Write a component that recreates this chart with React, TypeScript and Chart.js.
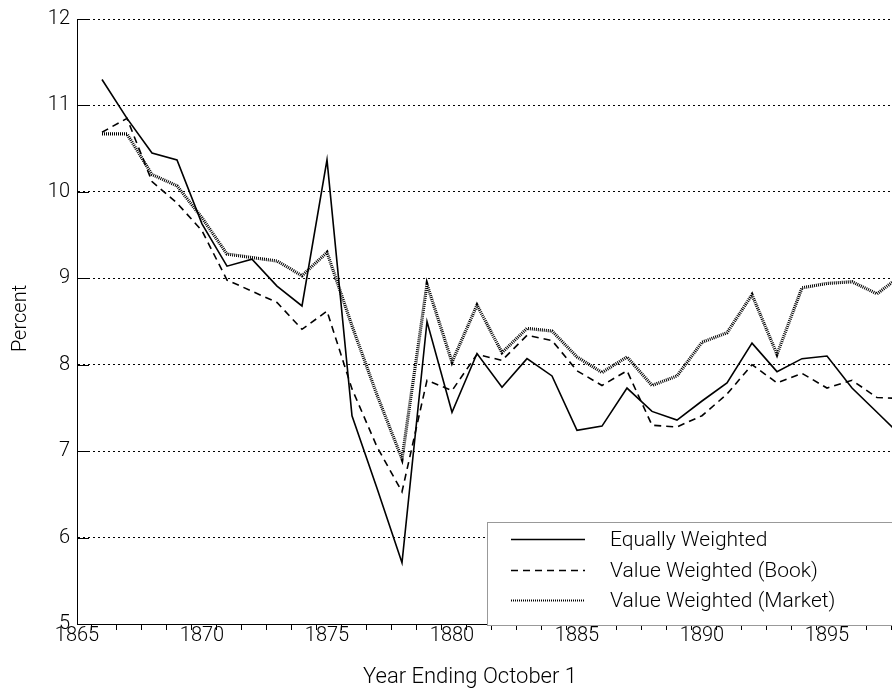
import React, { useEffect, useRef } from 'react';
import { Chart, registerables } from 'chart.js';

Chart.register(...registerables);

const years = [
  1866, 1867, 1868, 1869, 1870, 1871, 1872, 1873, 1874, 1875, 1876,
  1877, 1878, 1879, 1880, 1881, 1882, 1883, 1884, 1885, 1886, 1887,
  1888, 1889, 1890, 1891, 1892, 1893, 1894, 1895, 1896, 1897, 1898,
];
const equallyWeighted = [
  11.3, 10.85, 10.45, 10.37, 9.63, 9.14, 9.22, 8.91, 8.68, 10.37, 7.41,
  6.57, 5.71, 8.5, 7.45, 8.13, 7.74, 8.07, 7.87, 7.24, 7.29, 7.73,
  7.46, 7.36, 7.58, 7.79, 8.25, 7.92, 8.07, 8.1, 7.73, 7.45, 7.17,
];
const valueWeightedBook = [
  10.69, 10.85, 10.12, 9.87, 9.55, 8.98, 8.85, 8.72, 8.41, 8.62, 7.72,
  7.05, 6.53, 7.82, 7.7, 8.12, 8.05, 8.34, 8.28, 7.93, 7.76, 7.93,
  7.3, 7.28, 7.41, 7.66, 8.0, 7.79, 7.9, 7.73, 7.82, 7.62, 7.61,
];
const valueWeightedMarket = [
  10.67, 10.67, 10.2, 10.07, 9.7, 9.28, 9.24, 9.2, 9.03, 9.3, 8.45,
  7.65, 6.91, 8.93, 8.03, 8.69, 8.14, 8.42, 8.39, 8.09, 7.91, 8.09,
  7.76, 7.87, 8.26, 8.37, 8.81, 8.12, 8.89, 8.94, 8.96, 8.82, 9.04,
];
const seriesLabels = ['Equally Weighted', 'Value Weighted (Book)', 'Value Weighted (Market)'];
const yTickValues = [5, 6, 7, 8, 9, 10, 11, 12];
const xLabelYears = [1865, 1870, 1875, 1880, 1885, 1890, 1895];
const xTitle = 'Year Ending October 1';
const yTitle = 'Percent';
const xMin = 1865;
const xMax = 1897.6;
const minorTickOffset = 0.55;

const FONT_FAMILY = "Roboto, 'Liberation Sans', sans-serif";
const FONT_WEIGHT = '300';
const TICK_FONT = { family: FONT_FAMILY, size: 20, weight: FONT_WEIGHT as any };
const cssFont = (size: number) => `${FONT_WEIGHT} ${size}px ${FONT_FAMILY}`;

const lineStyles = [
  { borderColor: '#000', borderWidth: 1.6, borderDash: [] as number[] },
  { borderColor: '#000', borderWidth: 1.6, borderDash: [7, 5] },
  { borderColor: '#000', borderWidth: 3.2, borderDash: [1, 1] },
];

const axisTicksPlugin = {
  id: 'axisTicks',
  afterDraw(chart: any) {
    const { ctx, chartArea, scales } = chart;
    const x = scales.x;
    const y = scales.y;
    ctx.save();
    ctx.strokeStyle = '#000';
    ctx.lineWidth = 1;
    ctx.setLineDash([]);
    ctx.beginPath();
    yTickValues.forEach((v) => {
      const py = Math.round(y.getPixelForValue(v)) + 0.5;
      ctx.moveTo(chartArea.left, py);
      ctx.lineTo(chartArea.left + 12, py);
    });
    for (let yr = Math.floor(x.min); yr + minorTickOffset <= x.max; yr++) {
      const px = Math.round(x.getPixelForValue(yr + minorTickOffset)) + 0.5;
      ctx.moveTo(px, chartArea.bottom);
      ctx.lineTo(px, chartArea.bottom + 6);
    }
    ctx.stroke();

    // axis titles
    ctx.fillStyle = '#000';
    ctx.textAlign = 'center';
    ctx.textBaseline = 'alphabetic';
    ctx.font = cssFont(22);
    ctx.fillText(xTitle, 470, 683);
    ctx.save();
    ctx.font = cssFont(20);
    ctx.translate(26, (chartArea.top + chartArea.bottom) / 2 - 3);
    ctx.rotate(-Math.PI / 2);
    ctx.fillText(yTitle, 0, 0);
    ctx.restore();
    ctx.restore();
  },
};

const boxLegendPlugin = {
  id: 'boxLegend',
  afterDraw(chart: any) {
    const { ctx } = chart;
    const left = 487;
    const top = 522;
    const bottom = 625;
    ctx.save();
    ctx.fillStyle = '#fff';
    ctx.fillRect(left, top, 500, bottom - top);
    ctx.strokeStyle = '#999';
    ctx.lineWidth = 1;
    ctx.setLineDash([]);
    ctx.strokeRect(left + 0.5, top + 0.5, 500, bottom - top);
    const rows = [539, 570, 600];
    chart.data.datasets.forEach((ds: any, i: number) => {
      const yy = rows[i] + 0.5;
      ctx.beginPath();
      ctx.strokeStyle = ds.borderColor;
      ctx.lineWidth = i === 2 ? 2 : ds.borderWidth;
      ctx.setLineDash(ds.borderDash || []);
      ctx.moveTo(511, yy);
      ctx.lineTo(585, yy);
      ctx.stroke();
      ctx.setLineDash([]);
      ctx.fillStyle = '#000';
      ctx.font = cssFont(21);
      ctx.textBaseline = 'alphabetic';
      ctx.textAlign = 'left';
      ctx.fillText(ds.label, 610, rows[i] + 7);
    });
    ctx.restore();
  },
};

export default function App() {
  const canvasRef = useRef<HTMLCanvasElement | null>(null);

  useEffect(() => {
    if (!canvasRef.current) return;
    const toPoints = (vals: number[]) => years.map((yr, i) => ({ x: yr, y: vals[i] }));
    const allSeries = [equallyWeighted, valueWeightedBook, valueWeightedMarket];
    const chart = new Chart(canvasRef.current, {
      type: 'line',
      data: {
        datasets: allSeries.map((vals, i) => ({
          label: seriesLabels[i],
          data: toPoints(vals),
          fill: false,
          pointRadius: 0,
          tension: 0,
          ...lineStyles[i],
        })),
      },
      options: {
        animation: false,
        responsive: false,
        layout: { padding: { top: 17, left: 0, right: 0, bottom: 0 } },
        plugins: {
          legend: { display: false },
          tooltip: { enabled: false },
        },
        scales: {
          x: {
            type: 'linear',
            min: xMin,
            max: xMax,
            afterBuildTicks: (s: any) => {
              s.ticks = xLabelYears.map((v) => ({ value: v }));
            },
            afterFit: (s: any) => {
              s.height = 70;
            },
            ticks: {
              autoSkip: false,
              maxRotation: 0,
              padding: 0,
              color: '#000',
              font: TICK_FONT,
              callback: (v: any) => String(v),
            },
            grid: { display: false, drawTicks: false },
            border: { display: true, color: '#000', width: 1 },
            title: { display: false },
          },
          y: {
            min: 5,
            max: 12,
            afterBuildTicks: (s: any) => {
              s.ticks = yTickValues.map((v) => ({ value: v }));
            },
            afterFit: (s: any) => {
              s.width = 77;
            },
            ticks: {
              padding: 7,
              color: '#000',
              font: TICK_FONT,
            },
            grid: { color: '#000', lineWidth: 1, drawTicks: false },
            border: { display: true, color: '#000', width: 1, dash: [2, 3] },
            title: { display: false },
          },
        },
      },
      plugins: [axisTicksPlugin, boxLegendPlugin],
    } as any);
    return () => chart.destroy();
  }, []);

  return (
    <div style={{ position: 'fixed', left: 0, top: 0, width: 892, height: 694, background: '#fff' }}>
      <canvas ref={canvasRef} width={892} height={694} style={{ width: 892, height: 694, display: 'block' }} />
    </div>
  );
}
